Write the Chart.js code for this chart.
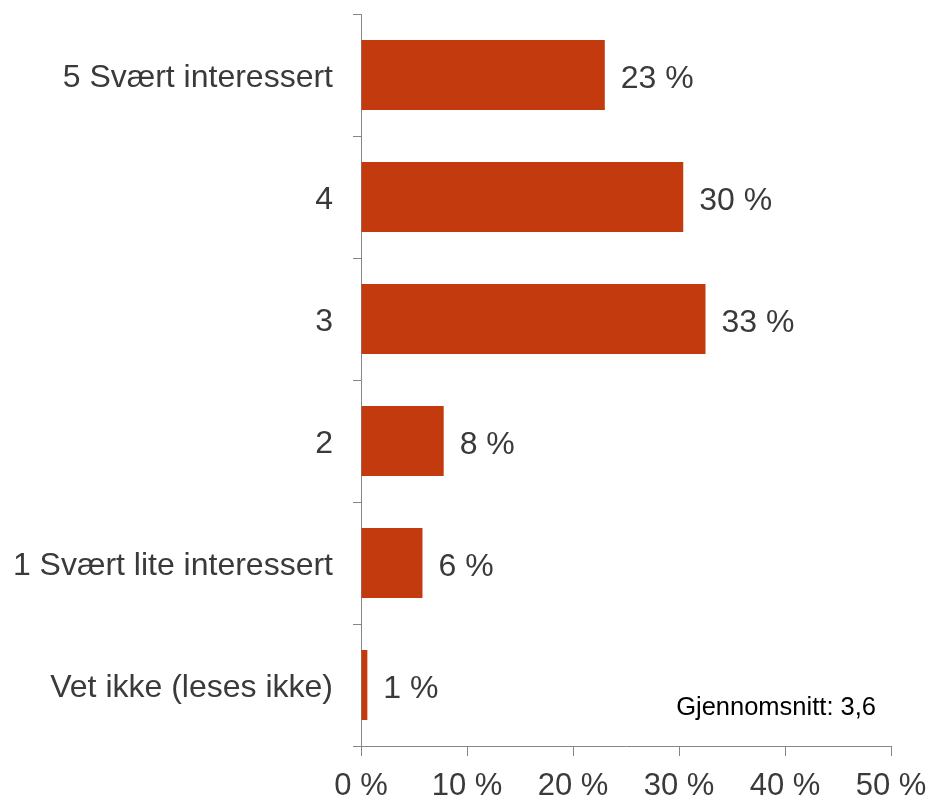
<!DOCTYPE html>
<html>
<head>
<meta charset="utf-8">
<script src="https://cdn.jsdelivr.net/npm/chart.js@4"></script>
<style>
  html, body { margin: 0; padding: 0; background: #ffffff; }
  #wrap { width: 929px; height: 799px; }
</style>
</head>
<body>
<div id="wrap"><canvas id="chart" width="929" height="799"></canvas></div>
<script>
const categories = [
  "5 Svært interessert",
  "4",
  "3",
  "2",
  "1 Svært lite interessert",
  "Vet ikke (leses ikke)"
];
const shares = [23.0, 30.4, 32.5, 7.8, 5.8, 0.6];
const tickValues = [0, 10, 20, 30, 40, 50];
const averageNote = "Gjennomsnitt: 3,6";

const textColor = "#3a3a3a";
const axisColor = "#868686";
const fontFamily = "'Liberation Sans', Arial, sans-serif";

// draw "23 %" after each bar
const valueLabels = {
  id: "valueLabels",
  afterDatasetsDraw(chart) {
    const ctx = chart.ctx;
    const meta = chart.getDatasetMeta(0);
    ctx.save();
    ctx.font = "32px " + fontFamily;
    ctx.fillStyle = textColor;
    ctx.textAlign = "left";
    ctx.textBaseline = "middle";
    meta.data.forEach((bar, i) => {
      ctx.fillText(Math.round(shares[i]) + " %", bar.x + 16, bar.y + 4);
    });
    ctx.restore();
  }
};

// average note in lower right corner of the plot
const noteText = {
  id: "noteText",
  afterDraw(chart) {
    const ctx = chart.ctx;
    const area = chart.chartArea;
    ctx.save();
    ctx.font = "25.5px " + fontFamily;
    ctx.fillStyle = "#000000";
    ctx.textAlign = "right";
    ctx.textBaseline = "middle";
    ctx.fillText(averageNote, area.right - 15, area.bottom - 38);
    ctx.restore();
  }
};

new Chart(document.getElementById("chart").getContext("2d"), {
  type: "bar",
  plugins: [valueLabels, noteText],
  data: {
    labels: categories,
    datasets: [{
      data: shares,
      backgroundColor: "#c23a0e",
      borderWidth: 0,
      categoryPercentage: 1,
      barPercentage: 0.574
    }]
  },
  options: {
    indexAxis: "y",
    responsive: false,
    animation: false,
    layout: { padding: { top: 14, right: 38, left: 0, bottom: 0 } },
    plugins: {
      legend: { display: false },
      tooltip: { enabled: false }
    },
    scales: {
      y: {
        afterFit(scale) {
          scale.width = 361;
          scale.paddingTop = 0;
          scale.paddingBottom = 0;
        },
        border: { color: axisColor, width: 1 },
        grid: {
          drawOnChartArea: false,
          drawTicks: true,
          tickLength: 8,
          color: axisColor,
          offset: true
        },
        ticks: {
          color: textColor,
          padding: 20,
          labelOffset: 3,
          font: { size: 32, family: fontFamily }
        }
      },
      x: {
        min: 0,
        max: 50,
        afterFit(scale) {
          scale.height = 53;
          scale.paddingLeft = 0;
          scale.paddingRight = 0;
        },
        afterBuildTicks(scale) {
          scale.ticks = tickValues.map(v => ({ value: v }));
        },
        border: { color: axisColor, width: 1 },
        grid: {
          drawOnChartArea: false,
          drawTicks: true,
          tickLength: 10,
          color: axisColor
        },
        ticks: {
          color: textColor,
          padding: 12,
          maxRotation: 0,
          font: { size: 31, family: fontFamily },
          callback: v => v + " %"
        }
      }
    }
  }
});
</script>
</body>
</html>
